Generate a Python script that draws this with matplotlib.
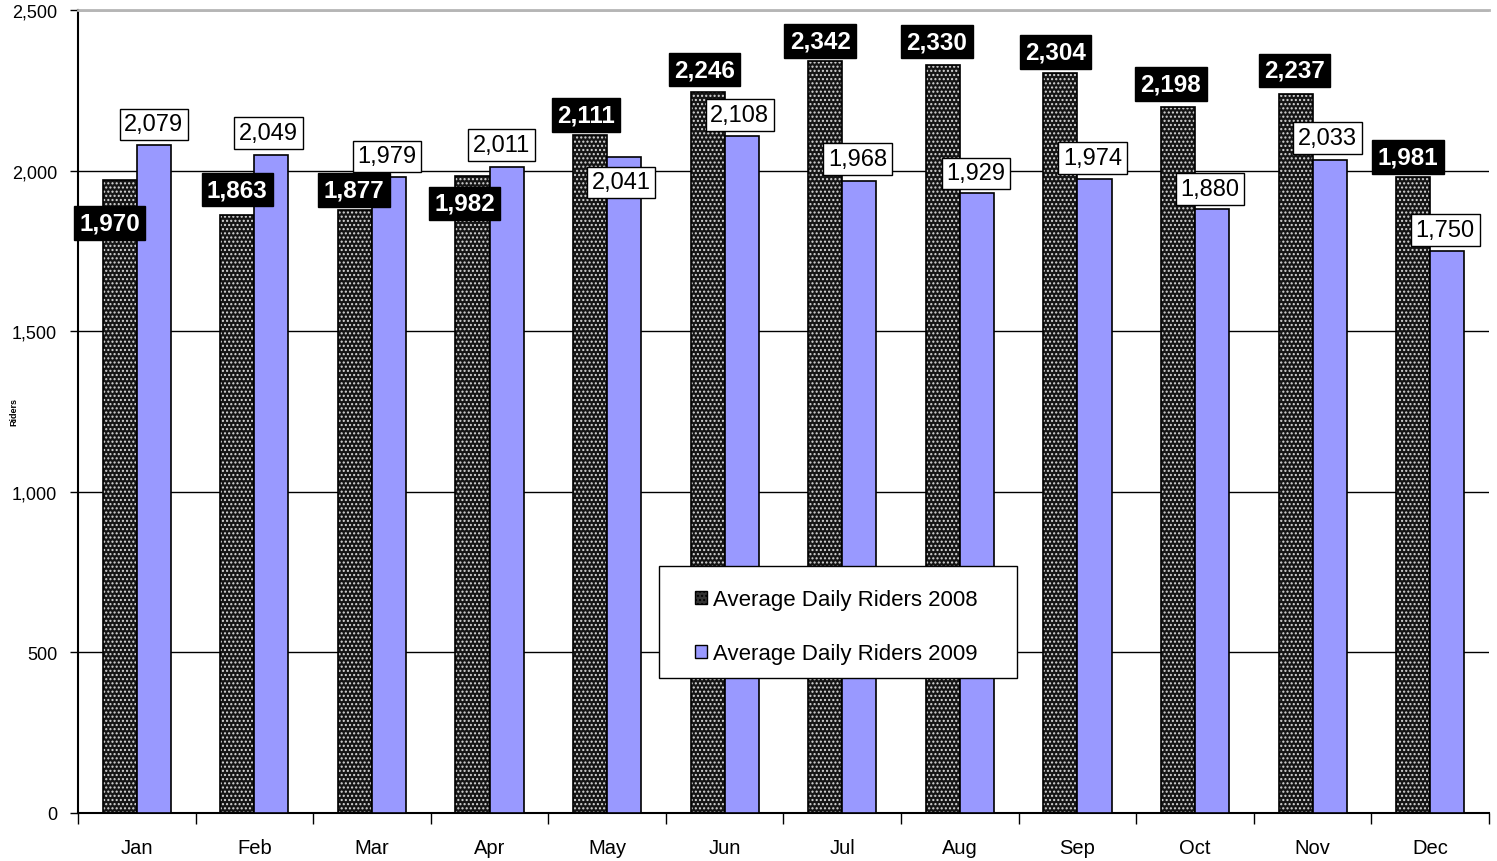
import numpy as np
import matplotlib.pyplot as plt
from matplotlib.patches import Patch, Rectangle
from matplotlib.ticker import FuncFormatter

plt.rcParams['font.family'] = ['Liberation Sans', 'DejaVu Sans']
plt.rcParams['hatch.linewidth'] = 1.0

months = ['Jan', 'Feb', 'Mar', 'Apr', 'May', 'Jun', 'Jul', 'Aug', 'Sep', 'Oct', 'Nov', 'Dec']
riders_2008 = [1970, 1863, 1877, 1982, 2111, 2246, 2342, 2330, 2304, 2198, 2237, 1981]
riders_2009 = [2079, 2049, 1979, 2011, 2041, 2108, 1968, 1929, 1974, 1880, 2033, 1750]
series_names = ['Average Daily Riders 2008', 'Average Daily Riders 2009']

# label offsets from the bar top, in pixels (dx, dy up)
offs_2008 = [(-10, -43), (0, 25), (-1, 20), (-8, -27), (-4, 20), (-3, 22),
             (-5, 20), (-6, 23), (-5, 21), (-7, 23), (-1, 24), (-5, 20)]
offs_2009 = [(0, 21), (-3, 22), (-2, 21), (-5, 22), (-3, -25), (-2, 21),
             (-2, 22), (-1, 20), (-2, 21), (-2, 20), (-2, 22), (-2, 21)]

fig = plt.figure(figsize=(14.97, 8.62), dpi=100)
ax = fig.add_axes([78 / 1497, 48 / 862, 1411 / 1497, 803 / 862])

x = np.arange(len(months))
w = 0.29
dark = '#151515'
blue = '#9999ff'

# 2008: dark with white dot pattern, then black outline on top
ax.bar(x - w / 2, riders_2008, w, color=dark, edgecolor='#d8d8d8', hatch='....',
       linewidth=0, zorder=2)
ax.bar(x - w / 2, riders_2008, w, fill=False, edgecolor='black', linewidth=1.2, zorder=3)
ax.bar(x + w / 2, riders_2009, w, color=blue, edgecolor='black', linewidth=1.2, zorder=3)

for i in range(len(months)):
    dx, dy = offs_2008[i]
    ax.annotate(f'{riders_2008[i]:,}', xy=(x[i] - w / 2, riders_2008[i]),
                xytext=(dx, dy), textcoords='offset pixels', ha='center', va='center',
                fontsize=17.5, fontweight='bold', color='white', zorder=6,
                bbox=dict(boxstyle='square,pad=0.22', fc='black', ec='black'))
    dx, dy = offs_2009[i]
    ax.annotate(f'{riders_2009[i]:,}', xy=(x[i] + w / 2, riders_2009[i]),
                xytext=(dx, dy), textcoords='offset pixels', ha='center', va='center',
                fontsize=17, color='black', zorder=6,
                bbox=dict(boxstyle='square,pad=0.2', fc='white', ec='black', lw=1))

ax.set_xlim(-0.5, len(months) - 0.5)
ax.set_ylim(0, 2500)
ax.set_yticks(np.arange(0, 2501, 500))
ax.yaxis.set_major_formatter(FuncFormatter(lambda v, p: f'{int(v):,}'))
ax.tick_params(axis='y', labelsize=13, length=6, width=1, pad=9)

ax.set_xticks(np.arange(-0.5, len(months), 1))
ax.set_xticklabels([])
ax.set_xticks(x, minor=True)
ax.set_xticklabels(months, minor=True)
ax.tick_params(axis='x', which='major', length=8, width=1)
ax.tick_params(axis='x', which='minor', length=0, labelsize=14.5, pad=18)

ax.yaxis.grid(True, color='black', linewidth=1)
ax.set_axisbelow(True)
ax.spines['right'].set_visible(False)
ax.spines['top'].set_color('#b5b5b5')
ax.spines['top'].set_linewidth(2)
ax.spines['left'].set_linewidth(1.5)
ax.spines['bottom'].set_linewidth(1.5)

ax.set_ylabel('Riders', fontsize=6.5, fontweight='bold')
ax.yaxis.set_label_coords(-0.0425, 0.5)

# legend box
ax.add_patch(Rectangle((0.412, 0.168), 0.2537, 0.1395, transform=ax.transAxes,
                       facecolor='white', edgecolor='black', linewidth=1, zorder=7))
handles = [Patch(facecolor='#333333', edgecolor='black', hatch='....'),
           Patch(facecolor=blue, edgecolor='black')]
leg = ax.legend(handles, series_names, loc='center', bbox_to_anchor=(0.5372, 0.2319),
                frameon=False, fontsize=16, handlelength=0.55, handleheight=0.55,
                handletextpad=0.25, labelspacing=1.5)
leg.set_zorder(8)

fig.savefig('out.png', dpi=100)
